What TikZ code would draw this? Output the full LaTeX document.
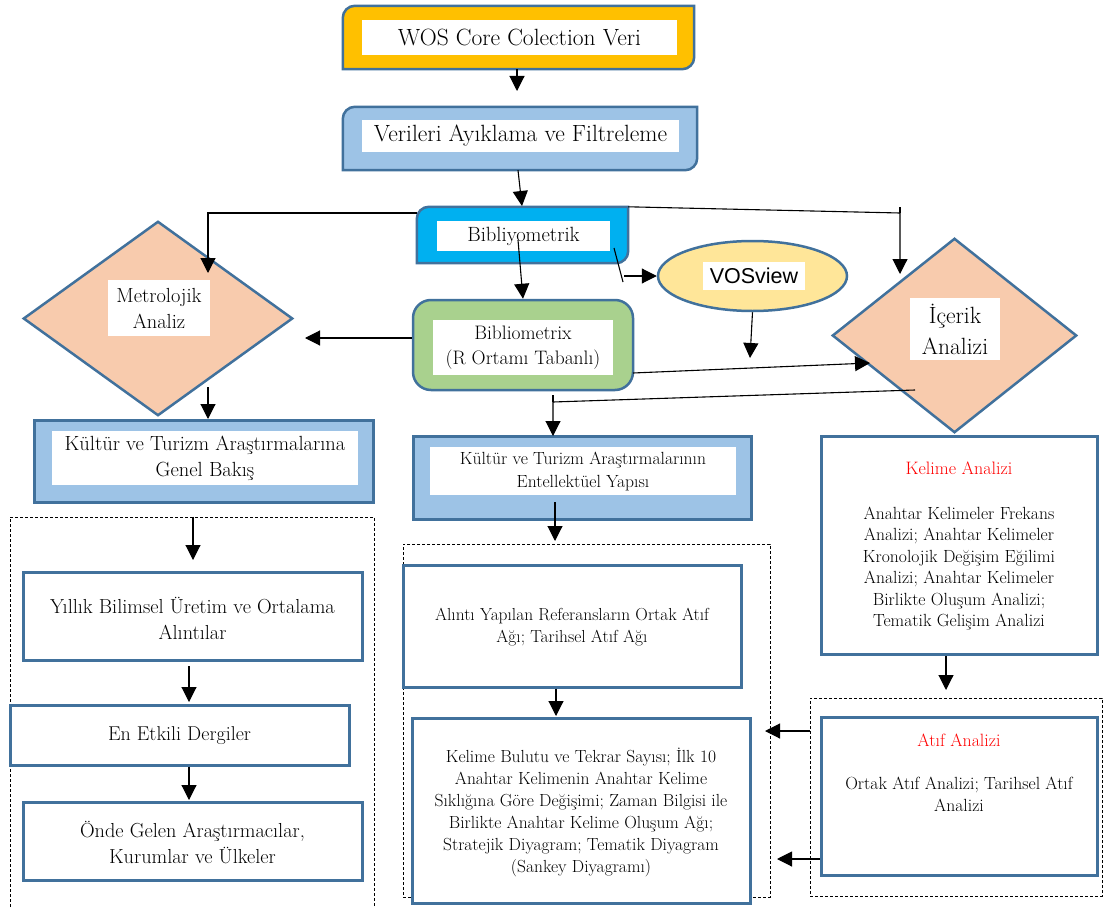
\documentclass[tikz,border=0pt]{standalone}
\usepackage{fontspec}
\newfontfamily\vosfont{Liberation Sans}
\usetikzlibrary{arrows.meta,shapes.geometric}
\definecolor{bd}{RGB}{65,113,156}
\definecolor{orangeF}{RGB}{255,192,0}
\definecolor{blueF}{RGB}{157,195,230}
\definecolor{cyanF}{RGB}{0,176,240}
\definecolor{greenF}{RGB}{169,209,142}
\definecolor{yellowF}{RGB}{255,230,153}
\definecolor{peachF}{RGB}{248,203,173}
\newcommand\cornerbox[2]{\draw[fill=#2, draw=bd, line width=2.5pt] (#1.west) [rounded corners=12pt] -- (#1.north west) -- (#1.north) [sharp corners] -- (#1.north east) -- (#1.east) [rounded corners=12pt] -- (#1.south east) -- (#1.south) [sharp corners] -- (#1.south west) -- cycle;}
\newcommand\diamondpath[1]{\draw[fill=peachF, draw=bd, line width=2.5pt] (#1.west) -- (#1.north) -- (#1.east) -- (#1.south) -- cycle;}
\tikzset{
  frame/.style={inner sep=0, draw=none},
  inner/.style={fill=white, inner sep=0, align=center},
  box/.style={draw=bd, line width=3pt, fill=white, inner sep=0, align=center},
  arr/.style={-{Triangle[length=15pt,width=15pt]}, line width=1.1pt},
  ln/.style={line width=1.1pt},
  dbox/.style={draw, dash pattern=on 3pt off 2pt, line width=1pt, inner sep=0},
  txt/.style={inner sep=0, align=center}
}
\begin{document}
\begin{tikzpicture}[x=1pt,y=-1pt]
\useasboundingbox[fill=white] (0,0) rectangle (1103,907);

% WOS
\node[frame, minimum width=351pt, minimum height=63pt] (wos) at (518.5,37.5) {};
\cornerbox{wos}{orangeF}
\node[inner, minimum width=315pt, minimum height=35pt, font=\fontsize{23.5}{28}\selectfont] (wost) at (519.5,37.5) {WOS Core Colection Veri};

% Verileri
\node[frame, minimum width=354pt, minimum height=63pt] (ver) at (520,138.5) {};
\cornerbox{ver}{blueF}
\node[inner, minimum width=317pt, minimum height=32pt, font=\fontsize{23.5}{28}\selectfont] (vert) at (520.5,136) {Verileri Ayıklama ve Filtreleme};

% Bibliyometrik
\node[frame, minimum width=211pt, minimum height=56pt] (bib) at (522.5,235) {};
\cornerbox{bib}{cyanF}
\node[inner, minimum width=173pt, minimum height=30pt, font=\fontsize{20.6}{23}\selectfont] (bibt) at (523.5,236) {Bibliyometrik};

% Metrolojik diamond
\node[frame, minimum width=268pt, minimum height=193pt] (met) at (158,318.5) {};
\diamondpath{met}
\node[inner, minimum width=102pt, minimum height=56pt, font=\fontsize{20.4}{26}\selectfont] (mett) at (159,308) {Metrolojik\\Analiz};

% Bibliometrix
\node[draw=bd, line width=2.5pt, fill=greenF, rounded corners=18pt, minimum width=220pt, minimum height=90pt, inner sep=0] (bmx) at (523,345) {};
\node[inner, minimum width=180pt, minimum height=55pt, font=\fontsize{19.5}{25}\selectfont] (bmxt) at (523,347.5) {Bibliometrix\\(R Ortamı Tabanlı)};

% VOSview
\node[ellipse, draw=bd, line width=2.5pt, fill=yellowF, minimum width=189pt, minimum height=70pt, inner sep=0] (vos) at (752.5,276) {};
\node[inner, minimum width=102pt, minimum height=28pt, font=\vosfont\fontsize{21.5}{24}\selectfont] (vost) at (754,276) {VOSview};

% Icerik diamond
\node[frame, minimum width=243pt, minimum height=193pt] (ice) at (954.5,335.5) {};
\diamondpath{ice}
\node[inner, minimum width=90pt, minimum height=62pt, font=\fontsize{23.5}{31}\selectfont] (icet) at (955,329) {İçerik\\Analizi};

% Kultur left
\node[draw=bd, line width=3pt, fill=blueF, minimum width=339pt, minimum height=82pt, inner sep=0] (kl) at (203.5,461) {};
\node[inner, minimum width=306pt, minimum height=54pt, font=\fontsize{20.5}{26}\selectfont] (klt) at (205,458) {Kültür ve Turizm Araştırmalarına\\Genel Bakış};

% Kultur middle
\node[draw=bd, line width=3pt, fill=blueF, minimum width=338pt, minimum height=83pt, inner sep=0] (km) at (582,477.5) {};
\node[inner, minimum width=306pt, minimum height=48pt, font=\fontsize{17.6}{23}\selectfont] (kmt) at (583,471) {Kültür ve Turizm Araştırmalarının\\Entellektüel Yapısı};

% Kelime Analizi
\node[box, minimum width=276pt, minimum height=218pt] (kel) at (959,545) {};
\node[txt, text=red, font=\fontsize{18}{20}\selectfont] (kelt) at (959,468) {Kelime Analizi};
\node[txt, font=\fontsize{17.6}{21.4}\selectfont] (kelb) at (959,568.5) {Anahtar Kelimeler Frekans\\Analizi; Anahtar Kelimeler\\Kronolojik Değişim Eğilimi\\Analizi; Anahtar Kelimeler\\Birlikte Oluşum Analizi;\\Tematik Gelişim Analizi};

% right dashed + Atif
\node[dbox, minimum width=292pt, minimum height=198pt] (drt) at (956,797) {};
\node[box, minimum width=276pt, minimum height=158pt] (atf) at (959,796) {};
\node[txt, text=red, font=\fontsize{17.8}{20}\selectfont] (atft) at (959,740) {Atıf Analizi};
\node[txt, font=\fontsize{17.6}{21.4}\selectfont] (atfb) at (959,794.5) {Ortak Atıf Analizi; Tarihsel Atıf\\Analizi};

% middle dashed
\node[dbox, minimum width=367pt, minimum height=353pt] (dmd) at (586.5,720.5) {};
\node[box, minimum width=338pt, minimum height=122pt] (al) at (572,626) {};
\node[txt, font=\fontsize{17.4}{22}\selectfont] (alt) at (572,627) {Alıntı Yapılan Referansların Ortak Atıf\\Ağı; Tarihsel Atıf Ağı};
\node[box, minimum width=338pt, minimum height=185pt] (kb) at (581,810.5) {};
\node[txt, font=\fontsize{17.5}{22}\selectfont] (kbt) at (581,812) {Kelime Bulutu ve Tekrar Sayısı; İlk 10\\Anahtar Kelimenin Anahtar Kelime\\Sıklığına Göre Değişimi; Zaman Bilgisi ile\\Birlikte Anahtar Kelime Oluşum Ağı;\\Stratejik Diyagram; Tematik Diyagram\\(Sankey Diyagramı)};

% left dashed
\node[dbox, minimum width=364pt, minimum height=400pt] (dlf) at (192,717) {};
\node[box, minimum width=339pt, minimum height=88pt] (yil) at (192.5,616) {};
\node[txt, font=\fontsize{20.3}{26}\selectfont] (yilt) at (192.5,618) {Yıllık Bilimsel Üretim ve Ortalama\\Alıntılar};
\node[box, minimum width=339pt, minimum height=60pt] (en) at (179.5,735) {};
\node[txt, font=\fontsize{20}{26}\selectfont] (ent) at (179.5,736) {En Etkili Dergiler};
\node[box, minimum width=339pt, minimum height=78pt] (on) at (192.5,841) {};
\node[txt, font=\fontsize{20.3}{26}\selectfont] (ont) at (192.5,843) {Önde Gelen Araştırmacılar,\\Kurumlar ve Ülkeler};

% coordinates
\coordinate (c1) at (517,91);
\coordinate (c2) at (522,206);
\coordinate (c3) at (208,213);
\coordinate (c4) at (208,273);
\coordinate (c5) at (900,213);
\coordinate (c6) at (900,274);
\coordinate (c7) at (614,248);
\coordinate (c8) at (623,282);
\coordinate (c9) at (624,276);
\coordinate (c10) at (305,338);
\coordinate (c11) at (633,373);
\coordinate (c12) at (870,363);
\coordinate (c13) at (750,358);
\coordinate (c14) at (915,390);
\coordinate (c15) at (553,402);
\coordinate (c16) at (553,436);
\coordinate (c17) at (208,387);
\coordinate (c18) at (208,419);
\coordinate (c19s) at (555,502);
\coordinate (c19) at (555,541);
\coordinate (c20) at (193,560);
\coordinate (c21) at (946,690);
\coordinate (c22) at (765,731);
\coordinate (c23) at (777,859);
\coordinate (c24) at (556,716);
\coordinate (c25s) at (189,666);
\coordinate (c25) at (189,702);
\coordinate (c26) at (189,800);

% connectors
\draw[arr] (wos.south -| c1) -- (c1);
\draw[arr] (ver.south -| 518,0) -- (c2);
\draw[arr] (bib.west |- c3) -- (c3) -- (c4);
\draw[arr] (bib.north east) -- (c5) -- (c6);
\draw[ln] (c5) -- ++(0,-6);
\draw[arr] (518,240) -- (bmx.north);
\draw[ln] (c7) -- (c8);
\draw[arr] (c9) -- (vos.west);
\draw[arr] (bmx.west |- c10) -- (c10);
\draw[arr] (c11) -- (c12);
\draw[arr] (vos.south) -- (c13);
\draw[arr] (c14) -- (c15) -- (c16);
\draw[ln] (c15) -- ++(0,-7);
\draw[arr] (c17) -- (c18);
\draw[arr] (c19s) -- (c19);
\draw[arr] (dlf.north -| c20) -- (c20);
\draw[arr] (kel.south -| c21) -- (c21);
\draw[arr] (drt.west |- c22) -- (c22);
\draw[arr] (atf.west |- c23) -- (c23);
\draw[arr] (al.south -| c24) -- (c24);
\draw[arr] (c25s) -- (c25);
\draw[arr] (en.south -| c26) -- (c26);
\end{tikzpicture}
\end{document}
